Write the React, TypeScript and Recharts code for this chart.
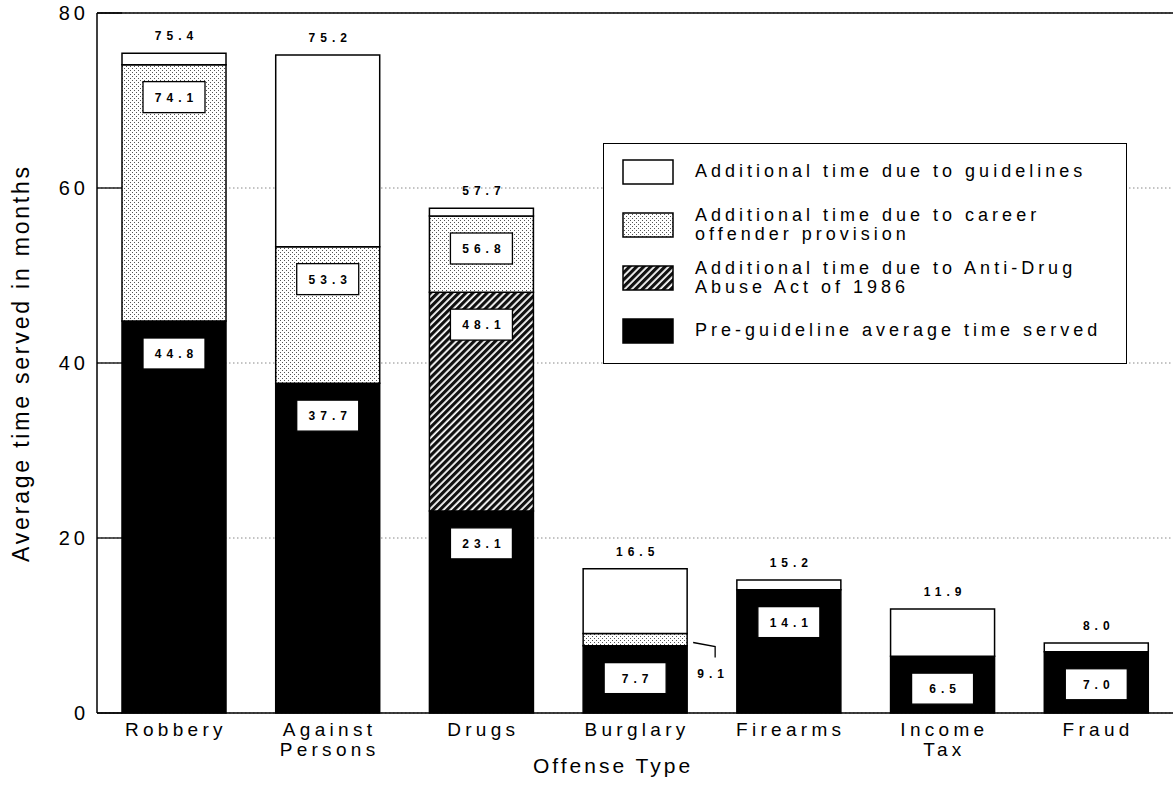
import React from "react";
import {
  BarChart,
  Bar,
  XAxis,
  YAxis,
  CartesianGrid,
  ReferenceLine,
  LabelList,
  Label,
} from "recharts";

// values (cumulative heights, as labelled)
const categories = ["Robbery", "Against Persons", "Drugs", "Burglary", "Firearms", "Income Tax", "Fraud"];
const preGuideline = [44.8, 37.7, 23.1, 7.7, 14.1, 6.5, 7.0];
const withAntiDrug = [null, null, 48.1, null, null, null, null];
const withCareer = [74.1, 53.3, 56.8, 9.1, null, null, null];
const totals = [75.4, 75.2, 57.7, 16.5, 15.2, 11.9, 8.0];
const yTicks = [0, 20, 40, 60, 80];

const FONT = '"Liberation Sans", Arial, Helvetica, sans-serif';

const r1 = (v: number) => Math.round(v * 10) / 10;

const chartData = categories.map((name, i) => {
  const pre = preGuideline[i];
  const drugTop = withAntiDrug[i];
  const careerTop = withCareer[i];
  const below1 = drugTop ?? pre;
  const below2 = careerTop ?? below1;
  return {
    name,
    pre,
    drug: drugTop != null ? r1(drugTop - pre) : null,
    career: careerTop != null ? r1(careerTop - below1) : null,
    guide: r1(totals[i] - below2),
    preLabel: pre,
    drugLabel: drugTop,
    careerLabel: careerTop,
    totalLabel: totals[i],
  };
});

const legendItems = [
  { kind: "guide", lines: ["Additional time due to guidelines"] },
  { kind: "career", lines: ["Additional time due to career", "offender provision"] },
  { kind: "drug", lines: ["Additional time due to Anti-Drug", "Abuse Act of 1986"] },
  { kind: "pre", lines: ["Pre-guideline average time served"] },
];

const valueText = {
  fontFamily: FONT,
  fontSize: 12,
  fontWeight: 700,
  letterSpacing: 5,
  fill: "#000",
};

function geom(props: any) {
  const vb = props.viewBox || {};
  return {
    x: props.x ?? vb.x,
    y: props.y ?? vb.y,
    width: props.width ?? vb.width,
    height: props.height ?? vb.height,
  };
}

function BoxLabel(props: any) {
  const { value } = props;
  if (value == null) return null;
  const { x, y, width, height } = geom(props);
  const text = Number(value).toFixed(1);
  const cx = x + width / 2;
  if (height < 20) {
    // too thin for a box: put it outside with a leader
    const rx = x + width;
    const my = y + height / 2;
    return (
      <g>
        <polyline
          points={`${rx + 6},${my + 3} ${rx + 28},${my + 7} ${rx + 28},${my + 18}`}
          fill="none"
          stroke="#000"
          strokeWidth={1.3}
        />
        <text x={rx + 26} y={my + 38} textAnchor="middle" {...valueText}>
          {text}
        </text>
      </g>
    );
  }
  const top = y + 17;
  return (
    <g>
      <rect x={cx - 31} y={top} width={62} height={31} fill="#fff" stroke="#000" strokeWidth={1.3} />
      <text x={cx + 2.5} y={top + 20} textAnchor="middle" {...valueText}>
        {text}
      </text>
    </g>
  );
}

function TopLabel(props: any) {
  const { value } = props;
  if (value == null) return null;
  const { x, y, width } = geom(props);
  return (
    <text x={x + width / 2 + 2.5} y={y - 13} textAnchor="middle" {...valueText}>
      {Number(value).toFixed(1)}
    </text>
  );
}

function YTick({ x, y, payload }: any) {
  return (
    <g>
      <line x1={x} x2={x + 25} y1={y} y2={y} stroke="#000" strokeWidth={1.3} />
      <text x={x - 8} y={y} dy={7} textAnchor="end" fontSize={20} letterSpacing={4} fill="#000" fontFamily={FONT}>
        {payload.value}
      </text>
    </g>
  );
}

function XTick({ x, y, payload }: any) {
  const lines = String(payload.value).split(" ");
  return (
    <text textAnchor="middle" fontSize={19} letterSpacing={4.3} fill="#000" fontFamily={FONT}>
      {lines.map((l, i) => (
        <tspan key={i} x={x + 2} y={y + 23 + i * 20}>
          {l}
        </tspan>
      ))}
    </text>
  );
}

function Swatch({ kind }: { kind: string }) {
  const fill =
    kind === "pre" ? "#000" : kind === "drug" ? "url(#lg-hatch)" : kind === "career" ? "url(#lg-dots)" : "#fff";
  return (
    <svg width={52} height={26} style={{ display: "block" }}>
      <defs>
        <pattern id="lg-dots" width="4" height="4" patternUnits="userSpaceOnUse">
          <rect width="4" height="4" fill="#fff" />
          <rect x="0" y="0" width="1" height="1" fill="#555" />
          <rect x="2" y="2" width="1" height="1" fill="#555" />
        </pattern>
        <pattern id="lg-hatch" width="5" height="5" patternUnits="userSpaceOnUse" patternTransform="rotate(45)">
          <rect width="5" height="5" fill="#fff" />
          <rect width="3.2" height="5" fill="#111" />
        </pattern>
      </defs>
      <rect x={1} y={1} width={50} height={24} fill={fill} stroke="#000" strokeWidth={1.5} />
    </svg>
  );
}

function LegendBox() {
  return (
    <div
      style={{
        position: "absolute",
        left: 603,
        top: 143,
        width: 524,
        height: 221,
        boxSizing: "border-box",
        border: "1.5px solid #000",
        background: "#fff",
        paddingTop: 1,
      }}
    >
      {legendItems.map((item) => (
        <div key={item.kind} style={{ height: 53, display: "flex", alignItems: "center" }}>
          <div style={{ marginLeft: 18, width: 52 }}>
            <Swatch kind={item.kind} />
          </div>
          <div style={{ marginLeft: 21, fontSize: 18, lineHeight: "19px", letterSpacing: 4, color: "#000" }}>
            {item.lines.map((l) => (
              <div key={l}>{l}</div>
            ))}
          </div>
        </div>
      ))}
    </div>
  );
}

export default function App() {
  return (
    <div
      style={{
        position: "absolute",
        left: 0,
        top: 0,
        width: 1173,
        height: 804,
        background: "#fff",
        fontFamily: FONT,
      }}
    >
      <BarChart
        width={1173}
        height={804}
        data={chartData}
        margin={{ top: 13, right: 0, bottom: 0, left: 0 }}
        barSize={104}
      >
        <defs>
          <pattern id="dots" width="4" height="4" patternUnits="userSpaceOnUse">
            <rect width="4" height="4" fill="#fff" />
            <rect x="0" y="0" width="1" height="1" fill="#555" />
            <rect x="2" y="2" width="1" height="1" fill="#555" />
          </pattern>
          <pattern id="hatch" width="5" height="5" patternUnits="userSpaceOnUse" patternTransform="rotate(45)">
            <rect width="5" height="5" fill="#fff" />
            <rect width="3.2" height="5" fill="#111" />
          </pattern>
        </defs>
        <CartesianGrid vertical={false} stroke="#888" strokeDasharray="1.5 2.5" />
        <XAxis
          dataKey="name"
          height={91}
          tickLine={false}
          tickSize={0}
          tickMargin={0}
          interval={0}
          axisLine={{ stroke: "#000", strokeWidth: 1.5 }}
          tick={<XTick />}
        >
          <Label
            value="Offense Type"
            position="insideBottom"
            offset={31}
            dx={-22}
            style={{ fontSize: 21, letterSpacing: 3, fill: "#000", fontFamily: FONT }}
          />
        </XAxis>
        <YAxis
          width={97}
          domain={[0, 80]}
          ticks={yTicks}
          tickLine={false}
          tickSize={0}
          tickMargin={0}
          axisLine={{ stroke: "#000", strokeWidth: 1.5 }}
          tick={<YTick />}
        >
          <Label
            value="Average time served in months"
            angle={-90}
            position="insideLeft"
            offset={21}
            style={{ textAnchor: "middle", fontSize: 23, letterSpacing: 2.8, fill: "#000", fontFamily: FONT }}
          />
        </YAxis>
        <ReferenceLine y={80} stroke="#000" strokeWidth={1.5} />
        <Bar dataKey="pre" stackId="t" fill="#000" stroke="#000" strokeWidth={1.5} isAnimationActive={false}>
          <LabelList dataKey="preLabel" content={(p: any) => <BoxLabel {...p} />} />
        </Bar>
        <Bar dataKey="drug" stackId="t" fill="url(#hatch)" stroke="#000" strokeWidth={1.5} isAnimationActive={false}>
          <LabelList dataKey="drugLabel" content={(p: any) => <BoxLabel {...p} />} />
        </Bar>
        <Bar dataKey="career" stackId="t" fill="url(#dots)" stroke="#000" strokeWidth={1.5} isAnimationActive={false}>
          <LabelList dataKey="careerLabel" content={(p: any) => <BoxLabel {...p} />} />
        </Bar>
        <Bar dataKey="guide" stackId="t" fill="#fff" stroke="#000" strokeWidth={1.5} isAnimationActive={false}>
          <LabelList dataKey="totalLabel" content={(p: any) => <TopLabel {...p} />} />
        </Bar>
      </BarChart>
      <LegendBox />
    </div>
  );
}
